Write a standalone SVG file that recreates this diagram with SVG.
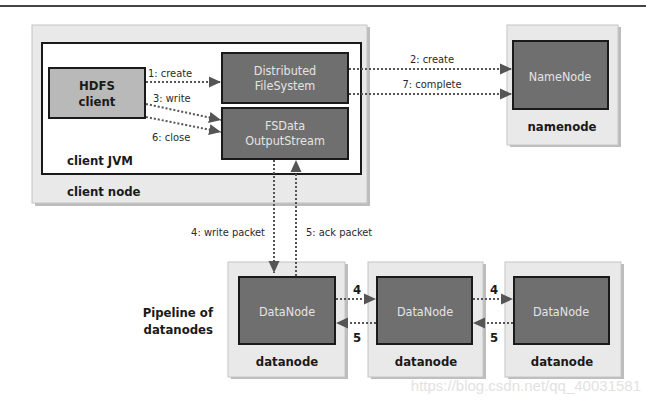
<svg xmlns="http://www.w3.org/2000/svg" width="646" height="409" viewBox="0 0 646 409">
<defs>
<style>
.host{fill:#e9e9e9;stroke:#c4c4c4;stroke-width:1}
.shadow{fill:#bdbdbd}
.dark{fill:#6f6f6f;stroke:#1a1a1a;stroke-width:2}
.light{fill:#b9b9b9;stroke:#1a1a1a;stroke-width:2}
.jvm{fill:#ffffff;stroke:#1a1a1a;stroke-width:2}
.in{font-family:"DejaVu Sans Condensed","DejaVu Sans",sans-serif;font-size:12.5px;fill:#e4e4e4;text-anchor:middle}
.bold{font-family:"DejaVu Sans Condensed","DejaVu Sans",sans-serif;font-weight:bold;font-size:13px;fill:#1a1a1a}
.lab{font-family:"DejaVu Sans Condensed","DejaVu Sans",sans-serif;font-size:11px;fill:#2a2a2a}
.con{stroke:#555;stroke-width:2;stroke-dasharray:2,2;fill:none}
</style>
<marker id="ah" markerUnits="userSpaceOnUse" markerWidth="13" markerHeight="13" viewBox="0 0 13 13" refX="12" refY="6.5" orient="auto">
<path d="M0,1 L12,6.5 L0,12 Z" fill="#555"/>
</marker>
</defs>
<rect width="646" height="409" fill="#ffffff"/>
<line x1="0" y1="6" x2="646" y2="6" stroke="#444" stroke-width="2"/>

<g id="client-node">
<rect class="shadow" x="35" y="27" width="335" height="179"/>
<rect class="host" x="32" y="25" width="335" height="178"/>
<text class="bold" x="67" y="196">client node</text>
</g>
<g id="client-jvm">
<rect class="jvm" x="42" y="43" width="319" height="131"/>
<text class="bold" x="67" y="165">client JVM</text>
</g>
<g id="hdfs-client">
<rect class="light" x="49" y="68" width="96" height="50"/>
<text class="bold" x="97" y="90" text-anchor="middle" font-size="14">HDFS</text>
<text class="bold" x="97" y="106" text-anchor="middle" font-size="14">client</text>
</g>
<g id="dfs">
<rect class="dark" x="222" y="53" width="126" height="50"/>
<text class="in" x="285" y="75">Distributed</text>
<text class="in" x="285" y="90">FileSystem</text>
</g>
<g id="fsdos">
<rect class="dark" x="222" y="108" width="126" height="51"/>
<text class="in" x="285" y="130">FSData</text>
<text class="in" x="285" y="145">OutputStream</text>
</g>

<g id="namenode-host">
<rect class="shadow" x="510" y="27" width="111" height="120"/>
<rect class="host" x="507" y="25" width="111" height="120"/>
<text class="bold" x="562" y="131" text-anchor="middle">namenode</text>
</g>
<g id="namenode">
<rect class="dark" x="513" y="41" width="95" height="68"/>
<text class="in" x="560" y="81">NameNode</text>
</g>

<g id="datanode1">
<rect class="shadow" x="231" y="264" width="117" height="115"/>
<rect class="host" x="228" y="262" width="117" height="115"/>
<rect class="dark" x="239" y="277" width="96" height="67"/>
<text class="in" x="287" y="316">DataNode</text>
<text class="bold" x="287" y="366" text-anchor="middle">datanode</text>
</g>
<g id="datanode2">
<rect class="shadow" x="371" y="264" width="115" height="115"/>
<rect class="host" x="368" y="262" width="115" height="115"/>
<rect class="dark" x="377" y="277" width="95" height="67"/>
<text class="in" x="425" y="316">DataNode</text>
<text class="bold" x="426" y="366" text-anchor="middle">datanode</text>
</g>
<g id="datanode3">
<rect class="shadow" x="508" y="264" width="116" height="115"/>
<rect class="host" x="505" y="262" width="116" height="115"/>
<rect class="dark" x="514" y="277" width="95" height="67"/>
<text class="in" x="561" y="316">DataNode</text>
<text class="bold" x="562" y="366" text-anchor="middle">datanode</text>
</g>
<g id="pipeline-label">
<text class="bold" x="213" y="317" text-anchor="end" font-size="14">Pipeline of</text>
<text class="bold" x="213" y="334" text-anchor="end" font-size="14">datanodes</text>
</g>

<g id="connectors">
<line class="con" x1="146" y1="82" x2="221" y2="82" marker-end="url(#ah)"/>
<line class="con" x1="146" y1="104" x2="221" y2="120" marker-end="url(#ah)"/>
<line class="con" x1="146" y1="117" x2="221" y2="132" marker-end="url(#ah)"/>
<line class="con" x1="349" y1="69" x2="512" y2="69" marker-end="url(#ah)"/>
<line class="con" x1="349" y1="94" x2="512" y2="94" marker-end="url(#ah)"/>
<line class="con" x1="274" y1="160" x2="274" y2="273" marker-end="url(#ah)"/>
<line class="con" x1="296" y1="276" x2="296" y2="160" marker-end="url(#ah)"/>
<line class="con" x1="336" y1="299" x2="376" y2="299" marker-end="url(#ah)"/>
<line class="con" x1="376" y1="323" x2="336" y2="323" marker-end="url(#ah)"/>
<line class="con" x1="473" y1="299" x2="513" y2="299" marker-end="url(#ah)"/>
<line class="con" x1="513" y1="323" x2="473" y2="323" marker-end="url(#ah)"/>
<text class="lab" x="148" y="77">1: create</text>
<text class="lab" x="153" y="102">3: write</text>
<text class="lab" x="152" y="141">6: close</text>
<text class="lab" x="432" y="63" text-anchor="middle">2: create</text>
<text class="lab" x="432" y="88" text-anchor="middle">7: complete</text>
<text class="lab" x="265" y="236" text-anchor="end">4: write packet</text>
<text class="lab" x="306" y="236">5: ack packet</text>
<text class="bold" x="357" y="294" text-anchor="middle">4</text>
<text class="bold" x="357" y="342" text-anchor="middle">5</text>
<text class="bold" x="494" y="294" text-anchor="middle">4</text>
<text class="bold" x="494" y="342" text-anchor="middle">5</text>
</g>
<text x="641" y="391" text-anchor="end" font-family="'Liberation Sans',Arial,sans-serif" font-size="15" fill="#e2e2e2">https://blog.csdn.net/qq_40031581</text>
</svg>
